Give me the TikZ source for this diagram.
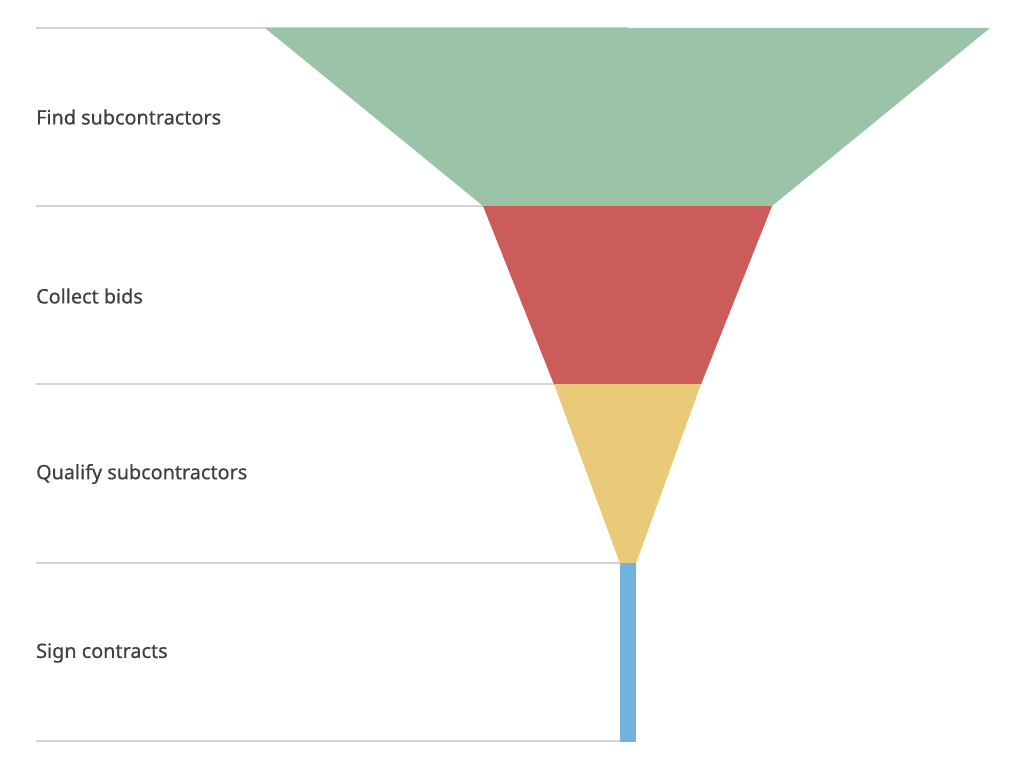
\documentclass[tikz,border=0pt]{standalone}
\usepackage{fontspec}
\setmainfont{Noto Sans}[FakeBold=0.6]
\definecolor{cgreen}{HTML}{9AC3A8}
\definecolor{cred}{HTML}{CB5C59}
\definecolor{cyellow}{HTML}{E8CA78}
\definecolor{cblue}{HTML}{72B3DE}
\definecolor{ctext}{HTML}{404040}
\definecolor{cline}{HTML}{D3D3D3}
\begin{document}
\begin{tikzpicture}[x=1pt,y=-1pt,
  sepline/.style={draw=cline,line width=1.2pt},
  lbl/.style={anchor=west,inner sep=0pt,text=ctext,font=\fontsize{19.8}{22}\selectfont\bfseries}]
\useasboundingbox (0,0) rectangle (1024,778);
% separator lines
\coordinate (l0a) at (36,28);  \coordinate (l0b) at (628,28);
\coordinate (l1a) at (36,206); \coordinate (l1b) at (628,206);
\coordinate (l2a) at (36,384); \coordinate (l2b) at (628,384);
\coordinate (l3a) at (36,563); \coordinate (l3b) at (628,563);
\coordinate (l4a) at (36,741); \coordinate (l4b) at (628,741);
\draw[sepline] (l0a) -- (l0b);
\draw[sepline] (l1a) -- (l1b);
\draw[sepline] (l2a) -- (l2b);
\draw[sepline] (l3a) -- (l3b);
\draw[sepline] (l4a) -- (l4b);
% funnel
\fill[cgreen] (265,28) -- (990,28) -- (772,206) -- (483,206) -- cycle;
\fill[cred] (483,206) -- (772,206) -- (701,384.5) -- (554,384.5) -- cycle;
\fill[cyellow] (554,384) -- (701,384) -- (636,563.5) -- (620,563.5) -- cycle;
\fill[cblue] (620,563) rectangle (636,742);
% labels
\node[lbl] (t1) at (36,117) {Find subcontractors};
\node[lbl] (t2) at (36,296) {Collect bids};
\node[lbl] (t3) at (36,474) {Qualify subcontractors};
\node[lbl] (t4) at (36,653) {Sign contracts};
\end{tikzpicture}
\end{document}
